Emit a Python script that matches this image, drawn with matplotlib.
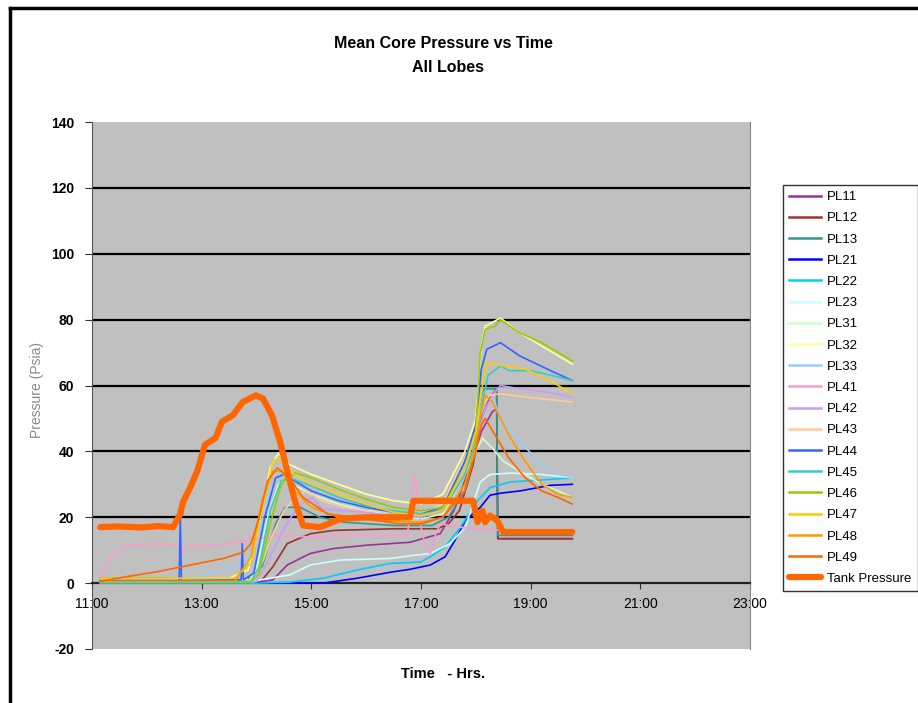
import matplotlib
matplotlib.use("Agg")
import matplotlib.pyplot as plt
from matplotlib.lines import Line2D

# Mean core pressure (psia) per lobe vs time of day (decimal hours)

PL11_t = [11.15, 12.5, 14.0, 14.3, 14.56, 14.98, 15.4, 16.0, 16.8, 17.35, 17.6, 17.95, 18.1, 18.3, 18.38, 18.40, 19.76]
PL11_v = [0.5, 0.3, 0.3, 1.0, 5.5, 9.0, 10.5, 11.5, 12.4, 15.0, 22.0, 38.0, 46.0, 52.0, 53.0, 13.5, 13.5]

PL12_t = [11.15, 14.07, 14.3, 14.56, 14.98, 15.4, 16.5, 17.3, 17.5, 17.7, 17.95, 18.1, 18.25, 18.38, 18.40, 19.76]
PL12_v = [0.3, 0.3, 5.0, 12.0, 15.0, 16.0, 16.5, 16.5, 18.0, 22.0, 36.0, 50.0, 56.0, 59.0, 13.5, 13.5]

PL13_t = [11.15, 12.4, 12.6, 13.8, 14.1, 14.35, 14.52, 14.8, 15.15, 15.6, 16.5, 17.2, 17.5, 17.8, 18.0, 18.1, 18.15, 18.38, 18.40, 19.76]
PL13_v = [1.5, 1.5, 0.5, 0.5, 5.0, 18.0, 23.0, 23.0, 20.0, 18.5, 17.5, 17.5, 20.0, 28.0, 42.0, 55.0, 59.0, 59.0, 14.5, 14.5]

PL21_t = [11.15, 14.1, 15.22, 15.84, 16.44, 16.8, 17.17, 17.44, 17.62, 17.81, 18.08, 18.26, 18.45, 18.81, 19.36, 19.76]
PL21_v = [0.0, 0.0, 0.0, 1.5, 3.3, 4.2, 5.5, 8.0, 13.0, 19.0, 23.0, 26.7, 27.3, 28.0, 29.7, 30.0]

PL22_t = [11.15, 14.0, 14.61, 15.22, 15.84, 16.44, 16.99, 17.17, 17.44, 17.72, 18.03, 18.26, 18.63, 19.18, 19.76]
PL22_v = [0.0, 0.0, 0.3, 1.5, 4.0, 6.0, 6.4, 8.0, 11.0, 17.0, 25.0, 29.0, 30.7, 31.3, 32.0]

PL23_t = [11.15, 13.9, 14.07, 14.61, 14.98, 15.53, 16.44, 16.8, 17.17, 17.53, 17.81, 18.08, 18.26, 18.63, 19.2, 19.76]
PL23_v = [0.3, 0.3, 1.0, 2.5, 5.5, 7.0, 7.5, 8.3, 9.0, 12.0, 17.0, 30.7, 33.0, 33.4, 33.0, 32.0]

PL31_t = [11.15, 13.85, 14.0, 14.2, 14.4, 14.55, 15.0, 15.5, 16.0, 16.5, 17.0, 17.4, 17.8, 18.0, 18.12, 18.3, 18.5, 18.8, 19.2, 19.5, 19.76]
PL31_v = [0.5, 0.5, 4.0, 20.0, 30.0, 31.0, 27.0, 24.0, 22.0, 20.5, 19.5, 21.0, 33.0, 40.0, 44.0, 41.0, 37.0, 34.0, 30.0, 28.0, 26.0]

PL32_t = [11.15, 13.5, 13.85, 14.05, 14.25, 14.4, 14.6, 15.0, 15.5, 16.0, 16.5, 17.0, 17.4, 17.8, 18.0, 18.1, 18.17, 18.45, 18.8, 19.2, 19.76]
PL32_v = [1.0, 1.5, 4.0, 18.0, 35.0, 39.5, 36.0, 33.0, 30.0, 27.0, 25.0, 24.0, 27.0, 40.0, 50.0, 72.0, 78.0, 80.5, 76.0, 72.0, 66.5]

PL33_t = [11.15, 12.5, 13.0, 13.5, 13.8, 14.0, 14.2, 14.4, 14.6, 15.0, 15.5, 16.0, 16.5, 17.0, 17.4, 17.8, 18.0, 18.15, 18.3, 18.45, 18.8, 19.2, 19.5, 19.76]
PL33_v = [0.3, 0.3, 2.4, 4.5, 6.0, 12.0, 26.0, 33.0, 32.0, 28.0, 25.0, 22.5, 21.0, 20.0, 23.0, 36.0, 46.0, 58.0, 57.0, 50.0, 43.0, 36.0, 33.0, 32.0]

PL41_t = [11.15, 11.2, 11.3, 11.46, 11.7, 12.2, 12.5, 12.6, 12.66, 12.75, 13.3, 13.8, 14.4, 15.0, 15.8, 16.75, 16.89, 17.0, 17.1, 17.17, 17.27, 17.35, 17.7, 18.0, 18.5, 19.0, 19.76]
PL41_v = [2.0, 3.0, 7.0, 10.0, 11.5, 12.0, 11.5, 11.0, 9.5, 11.0, 11.5, 13.0, 14.5, 14.0, 14.5, 14.5, 33.0, 17.0, 10.0, 9.0, 15.0, 18.0, 17.0, 16.5, 16.0, 15.5, 15.5]

PL42_t = [11.15, 14.0, 14.19, 14.45, 14.74, 15.01, 15.2, 15.6, 16.0, 16.5, 17.0, 17.4, 17.8, 18.0, 18.15, 18.3, 18.45, 18.8, 19.3, 19.76]
PL42_v = [0.5, 0.5, 6.0, 15.0, 23.0, 26.0, 22.5, 22.0, 21.5, 20.5, 20.0, 22.0, 33.0, 43.0, 52.0, 57.0, 60.0, 59.0, 58.0, 56.5]

PL43_t = [11.15, 13.9, 14.1, 14.3, 14.5, 14.7, 14.92, 15.2, 15.6, 16.0, 16.5, 17.0, 17.4, 17.8, 18.0, 18.12, 18.25, 18.45, 18.9, 19.76]
PL43_v = [1.0, 1.0, 6.0, 15.0, 22.0, 26.0, 28.0, 25.0, 23.0, 22.0, 21.5, 21.0, 24.0, 38.0, 46.0, 54.0, 57.0, 57.5, 56.5, 55.0]

PL44_t = [11.15, 12.59, 12.61, 12.63, 13.72, 13.74, 13.76, 13.95, 14.15, 14.35, 14.5, 14.7, 15.0, 15.5, 16.0, 16.5, 17.0, 17.4, 17.8, 18.0, 18.1, 18.2, 18.45, 18.8, 19.3, 19.76]
PL44_v = [0.8, 0.8, 21.0, 0.8, 1.0, 12.0, 1.0, 3.0, 20.0, 32.0, 33.0, 31.0, 28.0, 25.0, 23.0, 21.5, 21.0, 23.0, 37.0, 48.0, 65.0, 71.0, 73.0, 69.0, 65.0, 61.5]

PL45_t = [11.15, 13.9, 14.05, 14.25, 14.45, 14.6, 15.0, 15.5, 16.0, 16.5, 17.0, 17.4, 17.8, 18.0, 18.12, 18.22, 18.45, 18.6, 19.0, 19.4, 19.76]
PL45_v = [0.5, 0.5, 5.0, 22.0, 31.0, 32.0, 29.5, 26.0, 23.5, 22.0, 21.0, 22.0, 33.0, 43.0, 55.0, 63.0, 66.0, 64.5, 64.5, 63.0, 61.5]

PL46_t = [11.15, 13.9, 14.05, 14.25, 14.45, 14.7, 15.0, 15.5, 16.0, 16.5, 17.0, 17.4, 17.8, 18.0, 18.08, 18.17, 18.35, 18.45, 18.8, 19.2, 19.76]
PL46_v = [0.3, 0.3, 3.0, 18.0, 30.0, 33.5, 32.0, 28.5, 25.5, 23.0, 22.0, 23.0, 35.0, 45.0, 70.0, 77.0, 78.0, 80.0, 76.0, 73.0, 67.5]

PL47_t = [11.15, 13.6, 13.9, 14.1, 14.3, 14.4, 14.6, 15.0, 15.5, 16.0, 16.5, 17.0, 17.4, 17.8, 18.0, 18.12, 18.2, 18.5, 18.9, 19.4, 19.76]
PL47_v = [1.5, 1.5, 6.0, 22.0, 37.0, 38.0, 34.0, 30.0, 27.0, 24.0, 21.5, 20.5, 22.0, 35.0, 46.0, 60.0, 67.0, 66.0, 65.0, 61.0, 57.5]

PL48_t = [11.15, 13.6, 13.9, 14.1, 14.3, 14.45, 14.7, 15.0, 15.5, 16.2, 17.0, 17.4, 17.8, 18.0, 18.1, 18.17, 18.3, 18.6, 18.9, 19.2, 19.5, 19.76]
PL48_v = [0.5, 0.5, 8.0, 25.0, 34.0, 34.0, 28.0, 23.0, 20.0, 19.0, 18.5, 20.0, 30.0, 42.0, 52.0, 57.0, 55.0, 45.0, 37.0, 30.0, 27.0, 26.0]

PL49_t = [11.15, 11.57, 12.2, 12.8, 13.4, 13.76, 13.9, 14.05, 14.2, 14.38, 14.6, 14.85, 15.3, 16.0, 16.6, 17.0, 17.4, 17.8, 18.0, 18.1, 18.17, 18.35, 18.6, 18.9, 19.2, 19.5, 19.76]
PL49_v = [0.5, 1.8, 3.5, 5.5, 7.5, 9.4, 12.0, 20.0, 31.0, 35.0, 32.0, 26.0, 21.0, 19.5, 18.0, 18.0, 20.0, 28.0, 40.0, 48.0, 50.0, 45.0, 38.0, 32.0, 28.0, 26.0, 24.0]

TANK_t = [11.15, 11.5, 11.9, 12.2, 12.48, 12.61, 12.66, 12.79, 12.92, 13.06, 13.25, 13.37, 13.57, 13.75, 13.99, 14.12, 14.28, 14.43,
          14.56, 14.70, 14.85, 15.16, 15.53, 16.0, 16.8, 16.86, 17.95, 18.03, 18.12, 18.17, 18.26, 18.39, 18.50, 19.76]
TANK_v = [17.0, 17.2, 16.9, 17.3, 17.0, 21.0, 24.6, 29.0, 34.0, 42.0, 44.0, 49.0, 51.0, 55.0, 57.0, 56.0, 51.0, 43.0,
          34.0, 25.0, 17.5, 17.0, 19.5, 20.0, 20.0, 25.0, 25.0, 18.5, 22.0, 18.5, 20.5, 19.0, 15.5, 15.5]

labels = ["PL11", "PL12", "PL13", "PL21", "PL22", "PL23", "PL31", "PL32", "PL33",
          "PL41", "PL42", "PL43", "PL44", "PL45", "PL46", "PL47", "PL48", "PL49"]
series = [(PL11_t, PL11_v), (PL12_t, PL12_v), (PL13_t, PL13_v), (PL21_t, PL21_v), (PL22_t, PL22_v),
          (PL23_t, PL23_v), (PL31_t, PL31_v), (PL32_t, PL32_v), (PL33_t, PL33_v), (PL41_t, PL41_v),
          (PL42_t, PL42_v), (PL43_t, PL43_v), (PL44_t, PL44_v), (PL45_t, PL45_v), (PL46_t, PL46_v),
          (PL47_t, PL47_v), (PL48_t, PL48_v), (PL49_t, PL49_v)]
colors = ["#993399", "#993333", "#33998C", "#0000FF", "#00CCFF", "#CCFFFF", "#CCFFCC", "#FFFF99", "#99CCFF",
          "#FF99CC", "#CC99FF", "#FFCC99", "#3366FF", "#33CCCC", "#99CC00", "#FFCC00", "#FF9900", "#FF6600"]

xticks = [11, 13, 15, 17, 19, 21, 23]
xticklabels = ["11:00", "13:00", "15:00", "17:00", "19:00", "21:00", "23:00"]
yticks = [-20, 0, 20, 40, 60, 80, 100, 120, 140]

narrow = ["Liberation Sans Narrow", "Liberation Sans", "DejaVu Sans"]
plt.rcParams["font.family"] = ["Liberation Sans", "DejaVu Sans"]

fig = plt.figure(figsize=(9.18, 7.03), dpi=100)
ax = fig.add_axes([92 / 918, 54 / 703, 658 / 918, 527 / 703])
ax.set_facecolor("#C0C0C0")

for (t, v), c, lab in zip(series, colors, labels):
    ax.plot(t, v, color=c, lw=1.2, label=lab, zorder=3)
ax.plot(TANK_t, TANK_v, color="#FF6600", lw=4.5, label="Tank Pressure", zorder=4,
        solid_capstyle="round", solid_joinstyle="round")

ax.set_xlim(11, 23)
ax.set_ylim(-20, 140)
ax.set_xticks(xticks)
ax.set_xticklabels(xticklabels, family=narrow, fontsize=10)
ax.set_yticks(yticks)
ax.set_yticklabels([str(y) for y in yticks], fontsize=10, fontweight="bold")

for y in [20, 40, 60, 80, 100, 120]:
    ax.axhline(y, color="black", lw=1.6, zorder=1)

ax.spines["bottom"].set_position(("data", 0))
ax.spines["bottom"].set_color("#222222")
ax.spines["bottom"].set_linewidth(1.6)
ax.spines["top"].set_visible(False)
ax.spines["left"].set_color("#555555")
ax.spines["right"].set_color("#888888")
ax.tick_params(axis="x", direction="out", length=4, pad=6, color="#333333")
ax.tick_params(axis="y", direction="out", length=5, pad=8, color="#333333")

fig.text(443 / 918, 1 - 44 / 703, "Mean Core Pressure vs Time", ha="center", va="center",
         family=narrow, fontsize=11.5, fontweight="bold")
fig.text(448 / 918, 1 - 68 / 703, "All Lobes", ha="center", va="center",
         family=narrow, fontsize=11.5, fontweight="bold")
fig.text(37 / 918, 1 - 390 / 703, "Pressure (Psia)", rotation=90, ha="center", va="center",
         fontsize=10, color="#888888")
fig.text(443 / 918, 1 - 674 / 703, "Time   - Hrs.", ha="center", va="center",
         family=narrow, fontsize=10.5, fontweight="bold")

leg = fig.legend(loc="upper left", bbox_to_anchor=(783 / 918, 1 - 185 / 703), fontsize=9.5,
                 frameon=True, fancybox=False, edgecolor="black", handlelength=2.4,
                 labelspacing=0.68, borderpad=0.45, handletextpad=0.5, borderaxespad=0)
leg.get_frame().set_linewidth(1.0)
for line in leg.get_lines()[:-1]:
    line.set_linewidth(1.8)

# outer chart border (top and left edges visible)
fig.add_artist(Line2D([10 / 918, 10 / 918], [0, 1 - 8 / 703], transform=fig.transFigure, color="black", lw=2.5))
fig.add_artist(Line2D([10 / 918, 1], [1 - 8 / 703, 1 - 8 / 703], transform=fig.transFigure, color="black", lw=2.5))

fig.savefig("out.png", dpi=100)
